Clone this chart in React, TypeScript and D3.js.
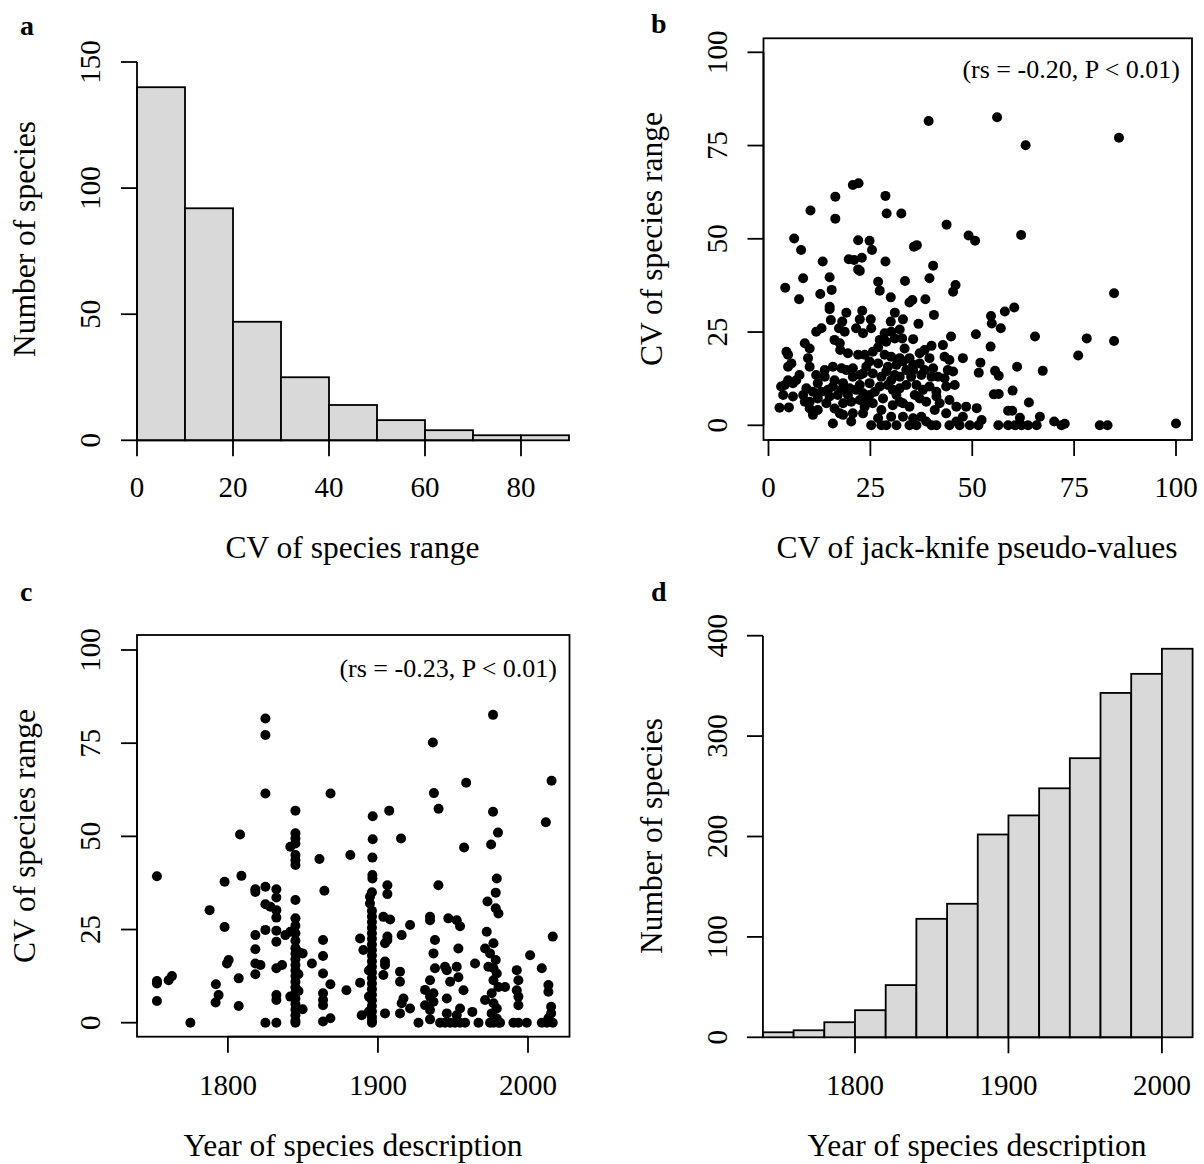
import React from "react";
import * as d3 from "d3";

// ---------- DATA ----------
const histABinEdges = [0, 10, 20, 30, 40, 50, 60, 70, 80, 90];
const histACounts = [140, 92, 47, 25, 14, 8, 4, 2, 2];
const histAXTicks = [0, 20, 40, 60, 80];
const histAYTicks = [0, 50, 100, 150];

const histDBinEdges = [1740, 1760, 1780, 1800, 1820, 1840, 1860, 1880, 1900, 1920, 1940, 1960, 1980, 2000, 2020];
const histDCounts = [5, 7, 15, 27, 52, 118, 133, 202, 221, 248, 278, 343, 362, 387];
const histDXTicks = [1800, 1900, 2000];
const histDYTicks = [0, 100, 200, 300, 400];

const scatterBTicks = [0, 25, 50, 75, 100];
const scatterCXTicks = [1800, 1900, 2000];
const scatterCYTicks = [0, 25, 50, 75, 100];

const labelB = "(rs = -0.20, P < 0.01)";
const labelC = "(rs = -0.23, P < 0.01)";

// [CV of jack-knife pseudo-values, CV of species range]
const pointsB: [number, number][] = [
  [39.3, 81.6], [56.1, 82.6], [63.1, 75.1], [86.0, 77.1], [20.7, 64.4], [22.1, 64.9], [16.4, 61.3], [28.7, 61.5],
  [10.3, 57.6], [16.4, 55.4], [29.0, 56.8], [32.6, 56.8], [43.7, 53.8], [49.1, 50.9], [50.7, 49.5], [62.0, 51.0],
  [6.3, 50.1], [8.0, 47.0], [22.0, 49.6], [24.8, 49.5], [25.4, 47.0], [35.7, 47.9], [36.4, 48.3], [13.3, 43.9],
  [19.7, 44.5], [21.0, 44.3], [22.9, 44.9], [28.7, 43.9], [22.0, 41.8], [40.4, 42.8],
  [8.5, 39.4], [15.0, 39.7], [22.4, 41.4], [4.1, 36.9], [7.5, 33.8], [12.7, 35.2], [15.5, 36.3], [26.9, 38.5],
  [27.3, 36.1], [33.5, 38.7], [39.5, 39.4], [45.9, 37.6], [45.3, 35.8], [30.0, 34.3], [38.5, 33.8], [34.6, 32.9],
  [35.3, 33.6], [15.0, 31.8], [15.0, 31.1], [19.1, 30.2], [23.0, 30.7], [31.0, 30.2], [40.6, 29.6], [15.3, 28.2],
  [18.1, 27.8], [22.4, 28.4], [25.1, 28.4], [30.0, 27.8], [33.0, 28.4], [36.8, 27.2], [17.3, 26.0], [21.5, 26.0],
  [23.2, 24.7], [25.2, 26.0], [11.7, 25.1], [13.0, 26.0], [16.2, 22.9], [18.7, 25.1], [28.5, 24.7], [30.1, 25.1],
  [32.2, 25.7], [31.0, 23.3], [32.8, 23.3], [35.5, 23.1], [27.3, 22.9], [26.9, 20.9], [44.8, 23.8], [8.9, 22.0],
  [10.1, 20.6], [4.4, 19.7], [4.8, 18.9], [17.6, 20.2], [19.5, 19.3], [23.6, 18.9], [28.5, 18.9], [30.1, 18.4],
  [32.2, 18.0], [34.6, 18.0], [37.1, 19.3], [38.3, 20.2], [40.0, 21.3], [42.8, 21.5], [43.2, 18.4], [44.4, 17.5],
  [47.7, 18.0], [4.8, 15.7], [5.6, 16.6], [9.7, 18.0], [10.1, 15.7], [13.8, 14.8], [17.9, 15.3], [20.7, 15.3],
  [24.0, 15.7], [24.8, 17.1], [26.9, 16.6], [29.3, 15.7], [31.4, 16.2], [33.0, 17.1], [35.5, 16.2], [37.1, 16.6],
  [35.5, 14.8], [38.3, 14.8], [7.6, 13.5], [4.8, 12.1], [4.0, 10.8], [6.0, 11.3], [12.1, 11.3], [13.8, 13.0],
  [16.2, 12.1], [18.3, 11.3], [20.7, 13.0], [23.2, 13.9], [24.8, 11.3], [27.7, 13.0], [30.1, 12.1], [32.2, 13.0],
  [35.0, 13.0], [37.5, 13.5], [40.0, 13.0], [41.6, 13.0], [43.2, 12.6], [45.3, 14.4], [3.6, 8.1], [6.0, 7.7],
  [8.5, 8.1], [10.9, 9.0], [12.1, 7.2], [14.6, 9.5], [15.8, 10.4], [17.9, 9.5], [19.5, 8.1], [21.5, 9.5],
  [23.2, 8.6], [24.8, 8.1], [27.3, 10.4], [28.1, 7.2], [30.5, 9.5], [32.2, 9.9], [33.8, 10.8], [36.3, 10.8],
  [37.9, 9.5], [39.5, 10.4], [41.2, 9.0], [43.6, 10.4], [45.7, 10.8], [2.7, 4.7], [5.0, 4.8], [8.9, 6.3],
  [10.1, 4.5], [10.9, 2.8], [14.2, 5.9], [16.2, 4.5], [18.3, 5.9], [20.3, 6.3], [22.4, 6.8], [23.6, 5.0],
  [25.6, 5.9], [27.7, 4.1], [30.5, 5.4], [32.2, 6.3], [34.6, 5.0], [37.1, 7.2], [41.2, 7.7], [44.4, 6.8],
  [46.1, 5.0], [48.5, 5.0], [15.8, 0.5], [20.3, 1.0], [18.3, 2.8], [23.2, 3.2], [25.2, 0], [28.9, 0],
  [30.1, 2.3], [31.4, 0], [33.0, 2.3], [34.6, 0], [36.3, 0], [38.7, 1.0], [41.2, 0], [40.8, 4.1],
  [44.4, 0], [46.1, 1.0], [47.7, 2.3], [49.4, 0],
  [3.1, 10.4], [6.8, 12.1], [9.3, 9.9], [13.0, 9.0], [15.0, 7.7], [17.0, 8.1], [19.9, 9.9], [22.4, 10.8],
  [24.0, 7.2], [26.1, 9.0], [29.3, 10.8], [31.4, 8.1], [33.0, 5.9], [35.9, 8.1], [38.7, 6.3], [42.0, 5.9],
  [43.6, 3.2], [10.1, 6.3], [12.1, 4.1], [17.5, 3.2], [20.7, 3.2], [26.9, 1.9], [27.7, 0], [35.5, 1.9],
  [37.5, 2.3], [40.0, 0], [46.9, 0], [19.1, 14.8], [22.4, 13.5], [25.6, 13.9], [28.9, 14.4], [31.0, 13.5],
  [33.8, 14.8], [40.4, 15.3], [44.0, 14.8], [15.8, 15.7], [11.7, 13.5], [39.5, 18.0], [25.6, 19.7],
  [22.0, 18.9], [17.5, 22.0], [28.9, 22.4], [33.4, 20.6],
  [84.8, 35.4], [60.3, 31.6], [58.0, 30.5], [54.6, 29.3], [54.8, 27.3], [57.0, 26.0], [50.9, 24.4], [65.4, 23.8],
  [78.1, 23.3], [84.8, 22.6], [54.5, 21.1], [76.0, 18.7], [52.0, 16.8], [51.6, 14.1], [55.6, 14.6], [56.5, 13.3],
  [61.0, 15.7], [67.3, 14.6], [55.3, 8.3], [56.5, 8.4], [59.9, 9.3], [51.1, 4.6], [63.9, 6.1], [58.8, 3.9],
  [59.8, 3.9], [66.6, 2.3], [61.7, 2.0], [52.3, 1.4], [51.5, 0], [70.1, 1.0], [72.7, 0.4], [71.9, 0],
  [56.4, 0], [58.8, 0], [60.5, 0], [62.1, 0], [63.7, 0], [65.8, 0], [81.3, 0], [83.2, 0], [100.0, 0.5],
];

// [Year of species description, CV of species range]
const pointsC: [number, number][] = [
  [1825, 81.6], [1825, 77.2], [1825, 61.5], [1868.4, 61.5], [1845, 56.9], [1845, 50.8], [1845, 49.4], [1896.5, 55.4],
  [1896.5, 49.2], [1907.5, 56.9], [1915.4, 49.4], [1936.6, 75.2], [1937.3, 61.6], [1940.4, 57.4], [1958.8, 64.4],
  [1976.7, 82.6], [1976.7, 56.6], [1980, 51.0], [2015.7, 64.9], [2011.9, 53.8], [1808.1, 50.5],
  [1752.7, 39.3], [1797.8, 37.8], [1809, 39.4], [1787.8, 30.2], [1797.8, 25.7], [1818.3, 35.8], [1818.3, 35.1],
  [1825, 36.5], [1832.3, 35.8], [1832.3, 33.6], [1825, 31.8], [1828.3, 31.1], [1832.3, 30.2], [1832.3, 28.2],
  [1845, 32.9], [1845, 48.1], [1841.6, 47.2], [1845, 45], [1845, 43.6], [1845, 42.3], [1861, 43.9], [1881.6, 45],
  [1864.3, 35.4], [1825, 24.9], [1832.3, 24.7], [1838.3, 23.5], [1841.6, 24.4],
  [1845, 28], [1845, 26], [1845, 24], [1845, 22], [1845, 20], [1845, 18.5], [1845, 17], [1845, 15.5], [1845, 14],
  [1845, 12.5], [1845, 11], [1845, 9.5], [1845, 8], [1845, 6.5], [1845, 5], [1845, 3.5], [1845, 2], [1845, 0.5],
  [1845, 0], [1847, 19], [1847, 13], [1847, 8.5],
  [1818.3, 23.5], [1832.3, 21.7], [1818.3, 19.7], [1863.4, 22.2], [1863.4, 17.9], [1849.8, 18.6], [1856, 15.9],
  [1800.5, 16.8], [1799.4, 15.9], [1818.3, 15.9], [1821.7, 15.5], [1818.3, 13.0], [1832.3, 14.6], [1836.1, 15.5],
  [1807.2, 11.9], [1863.4, 13.2], [1868.3, 10.3], [1879, 8.7], [1752.7, 10.5], [1752.7, 11.2], [1760.5, 11.4],
  [1762.7, 12.5], [1792, 10.3], [1793.8, 7.4], [1791.8, 5.4], [1807.2, 4.5], [1832.3, 7.4], [1832.3, 6.1],
  [1841.6, 7.0], [1863.4, 7.9], [1863.4, 6.1], [1863.4, 4.7], [1752.7, 5.8], [1775, 0], [1825, 0], [1832.3, 0],
  [1849.8, 3.6], [1863.4, 0.3], [1868.3, 1.2],
  [1896.3, 44.3], [1896.3, 39.6], [1896.3, 38.7], [1906.3, 36.9], [1906.3, 34.5], [1957.4, 47.0], [1975.4, 47.8],
  [1940.3, 36.9], [1979.2, 38.7], [1978.5, 34.9], [1973, 32.5], [1978.5, 30.7], [1980.3, 29.3], [1894.7, 33.8],
  [1894.7, 32],
  [1896, 35], [1896, 30], [1896, 28.5], [1896, 27], [1896, 25.5], [1896, 24], [1896, 22.5], [1896, 21], [1896, 19.5],
  [1896, 18], [1896, 16.5], [1896, 15], [1896, 13.5], [1896, 12], [1896, 10.5], [1896, 9], [1896, 7.5], [1896, 6],
  [1896, 4.5], [1896, 3], [1896, 1.5], [1896, 0.5], [1896, 0], [1894, 14], [1894, 7], [1894, 3],
  [1888.1, 22.6], [1890.3, 19.5], [1888.1, 10.7], [1889.2, 2.0], [1903.6, 28.4], [1908.1, 27.7], [1906.3, 23.1],
  [1906.3, 22.2], [1904.7, 21.3], [1904.7, 16.4], [1904.7, 15.5], [1903.6, 12.8], [1904.7, 2.5], [1915.8, 23.5],
  [1921.4, 26.2], [1914.7, 13.7], [1914.7, 11.0], [1917, 6.5], [1915.8, 5.2], [1921.4, 3.8], [1914.7, 2.5],
  [1927, 0], [1934.7, 28.4], [1934.7, 27.5], [1938, 22.2], [1937, 18.6], [1938, 14.6], [1934.7, 11.4],
  [1931.4, 8.8], [1934.7, 7.0], [1937, 7.9], [1931.4, 4.7], [1934.7, 3.4], [1937, 5.6], [1934.7, 0.9],
  [1946.9, 28], [1952.5, 27.5], [1954.7, 25.9], [1944.7, 15], [1945.9, 14.1], [1953.6, 19.9], [1952.5, 15],
  [1953.6, 12.2], [1948.1, 11], [1957, 8.7], [1945.9, 6.5], [1954.7, 3.8], [1962.9, 2.9], [1964.7, 15.9],
  [1941.4, 0], [1944.7, 0], [1948.1, 0], [1951.4, 0], [1954.7, 0], [1958.1, 0], [1967, 0], [1945.9, 2.5],
  [1952.5, 2.0],
  [1972.5, 24.4], [1977, 21.3], [1971.4, 19.9], [1974.7, 18.6], [1978.5, 16.8], [1973.6, 15.0], [1977, 14.6],
  [1979.2, 13.2], [1977, 11.4], [1980.3, 9.6], [1984.7, 9.6], [1975.8, 7.9], [1971.4, 6.1], [1977, 5.2],
  [1979.2, 3.8], [1975.8, 2.5], [1979.2, 1.1], [1980.3, 0], [1977, 0], [1974.7, 0], [1981.4, 0],
  [1992.5, 14.1], [1993.6, 11.4], [1992.5, 8.7], [1993.6, 7.0], [1993.6, 4.7], [1990.3, 0], [1993.6, 0],
  [1999.2, 0], [2001.4, 18.1], [2009.2, 14.6], [2013.6, 10.1], [2013.6, 8.3], [2015.4, 4.3], [2015.4, 2.5],
  [2013.6, 1.2], [2009.2, 0], [2012.5, 0], [2016.5, 0], [2016.5, 23.1],
];

// ---------- STYLE ----------
const FONT = "'Liberation Serif', 'Times New Roman', Times, serif";
const TICK_FS = 29;
const TITLE_FS = 31.5;
const NOTE_FS = 26;
const PANEL_FS = 28;
const SW = 1.8;
const TICK_LEN = 16;
const BAR_FILL = "#d9d9d9";
const DOT_R = 5;

// ---------- SCALES ----------
const xA = d3.scaleLinear().domain([0, 80]).range([137, 521]);
const yA = d3.scaleLinear().domain([0, 150]).range([440.3, 62]);

const xB = d3.scaleLinear().domain([0, 100]).range([768.5, 1176]);
const yB = d3.scaleLinear().domain([0, 100]).range([425.3, 52.3]);
const boxB = { x0: 763.5, x1: 1192, y0: 38.3, y1: 440 };

const xC = d3.scaleLinear().domain([1800, 2000]).range([227.9, 528]);
const yC = d3.scaleLinear().domain([0, 100]).range([1022.7, 650]);
const boxC = { x0: 137, x1: 569.5, y0: 635, y1: 1036.7 };

const xD = d3.scaleLinear().domain([1800, 2000]).range([855, 1161.9]);
const yD = d3.scaleLinear().domain([0, 400]).range([1037.3, 635.7]);

// ---------- HELPERS ----------
function YAxis({ x, scale, ticks, labelX, from, to }: any) {
  return (
    <g>
      <line x1={x} x2={x} y1={scale(from)} y2={scale(to)} stroke="#000" strokeWidth={SW} />
      {ticks.map((t: number) => (
        <g key={t}>
          <line x1={x - TICK_LEN} x2={x} y1={scale(t)} y2={scale(t)} stroke="#000" strokeWidth={SW} />
          <text
            transform={`translate(${labelX},${scale(t)}) rotate(-90)`}
            textAnchor="middle"
            fontSize={TICK_FS}
            fontFamily={FONT}
          >
            {t}
          </text>
        </g>
      ))}
    </g>
  );
}

function XAxis({ y, scale, ticks, labelY, from, to }: any) {
  return (
    <g>
      <line x1={scale(from)} x2={scale(to)} y1={y} y2={y} stroke="#000" strokeWidth={SW} />
      {ticks.map((t: number) => (
        <g key={t}>
          <line x1={scale(t)} x2={scale(t)} y1={y} y2={y + TICK_LEN} stroke="#000" strokeWidth={SW} />
          <text x={scale(t)} y={labelY} textAnchor="middle" fontSize={TICK_FS} fontFamily={FONT}>
            {t}
          </text>
        </g>
      ))}
    </g>
  );
}

function Title({ x, y, text }: any) {
  return (
    <text x={x} y={y} textAnchor="middle" fontSize={TITLE_FS} fontFamily={FONT}>
      {text}
    </text>
  );
}

function VTitle({ x, y, text }: any) {
  return (
    <text transform={`translate(${x},${y}) rotate(-90)`} textAnchor="middle" fontSize={TITLE_FS} fontFamily={FONT}>
      {text}
    </text>
  );
}

function PanelLabel({ x, y, text }: any) {
  return (
    <text x={x} y={y} fontSize={PANEL_FS} fontWeight="bold" fontFamily={FONT}>
      {text}
    </text>
  );
}

export default function App() {
  return (
    <svg
      width={1204}
      height={1164}
      viewBox="0 0 1204 1164"
      style={{ position: "absolute", left: 0, top: 0, background: "#fff" }}
    >
      <rect x={0} y={0} width={1204} height={1164} fill="#fff" />

      {/* ---------- Panel a ---------- */}
      <PanelLabel x={20} y={35} text="a" />
      {histACounts.map((c, i) => (
        <rect
          key={i}
          x={xA(histABinEdges[i])}
          y={yA(c)}
          width={xA(histABinEdges[i + 1]) - xA(histABinEdges[i])}
          height={yA(0) - yA(c)}
          fill={BAR_FILL}
          stroke="#000"
          strokeWidth={SW}
        />
      ))}
      <YAxis x={xA(0)} scale={yA} ticks={histAYTicks} labelX={100} from={0} to={150} />
      <XAxis y={yA(0)} scale={xA} ticks={histAXTicks} labelY={497} from={0} to={80} />
      <Title x={352.5} y={558} text="CV of species range" />
      <VTitle x={35} y={239} text="Number of species" />

      {/* ---------- Panel b ---------- */}
      <PanelLabel x={651} y={33} text="b" />
      <rect
        x={boxB.x0}
        y={boxB.y0}
        width={boxB.x1 - boxB.x0}
        height={boxB.y1 - boxB.y0}
        fill="none"
        stroke="#000"
        strokeWidth={SW}
      />
      {pointsB.map((p, i) => (
        <circle key={i} cx={xB(p[0])} cy={yB(p[1])} r={DOT_R} fill="#000" />
      ))}
      <YAxis x={boxB.x0} scale={yB} ticks={scatterBTicks} labelX={727} from={0} to={100} />
      <XAxis y={boxB.y1} scale={xB} ticks={scatterBTicks} labelY={497} from={0} to={100} />
      <text x={1180} y={78} textAnchor="end" fontSize={NOTE_FS} fontFamily={FONT}>
        {labelB}
      </text>
      <Title x={977} y={558} text="CV of jack-knife pseudo-values" />
      <VTitle x={662} y={239} text="CV of species range" />

      {/* ---------- Panel c ---------- */}
      <PanelLabel x={20} y={601} text="c" />
      <rect
        x={boxC.x0}
        y={boxC.y0}
        width={boxC.x1 - boxC.x0}
        height={boxC.y1 - boxC.y0}
        fill="none"
        stroke="#000"
        strokeWidth={SW}
      />
      {pointsC.map((p, i) => (
        <circle key={i} cx={xC(p[0])} cy={yC(p[1])} r={DOT_R} fill="#000" />
      ))}
      <YAxis x={boxC.x0} scale={yC} ticks={scatterCYTicks} labelX={100} from={0} to={100} />
      <XAxis y={boxC.y1} scale={xC} ticks={scatterCXTicks} labelY={1095} from={1800} to={2000} />
      <text x={557} y={677} textAnchor="end" fontSize={NOTE_FS} fontFamily={FONT}>
        {labelC}
      </text>
      <Title x={353} y={1156} text="Year of species description" />
      <VTitle x={35} y={836} text="CV of species range" />

      {/* ---------- Panel d ---------- */}
      <PanelLabel x={651} y={601} text="d" />
      {histDCounts.map((c, i) => (
        <rect
          key={i}
          x={xD(histDBinEdges[i])}
          y={yD(c)}
          width={xD(histDBinEdges[i + 1]) - xD(histDBinEdges[i])}
          height={yD(0) - yD(c)}
          fill={BAR_FILL}
          stroke="#000"
          strokeWidth={SW}
        />
      ))}
      <YAxis x={xD(1740)} scale={yD} ticks={histDYTicks} labelX={727} from={0} to={400} />
      <XAxis y={yD(0)} scale={xD} ticks={histDXTicks} labelY={1095} from={1800} to={2000} />
      <Title x={977} y={1156} text="Year of species description" />
      <VTitle x={662} y={836} text="Number of species" />
    </svg>
  );
}
